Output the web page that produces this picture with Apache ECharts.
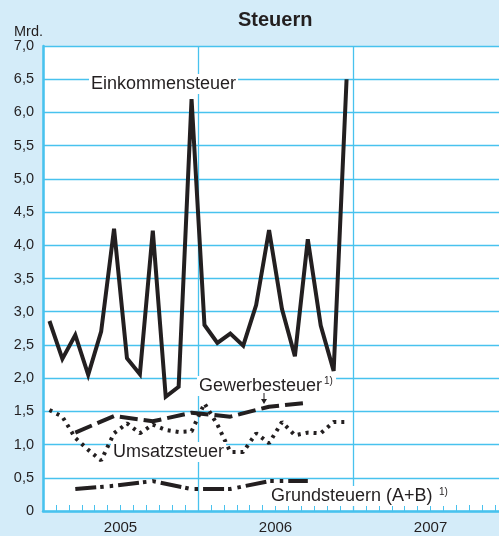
<!DOCTYPE html>
<html>
<head>
<meta charset="utf-8">
<script src="https://cdn.jsdelivr.net/npm/echarts@6/dist/echarts.min.js"></script>
<style>
html,body{margin:0;padding:0;background:#d4ecf9;}
#c{width:499px;height:536px;}
</style>
</head>
<body>
<div id="c"></div>
<script>
// Tick labels / categories
const years = ['2005', '2006', '2007'];
const yTicks = [0, 0.5, 1, 1.5, 2, 2.5, 3, 3.5, 4, 4.5, 5, 5.5, 6, 6.5, 7];

// Monthly series (Jan 2005 .. Dec 2006), Mrd.
const einkommensteuer = [2.86, 2.29, 2.65, 2.05, 2.70, 4.25, 2.30, 2.06, 4.22, 1.72, 1.87, 6.20,
                         2.80, 2.53, 2.67, 2.49, 3.10, 4.23, 3.04, 2.33, 4.09, 2.79, 2.11, 6.50];
const umsatzsteuer = [1.52, 1.42, 1.10, 0.92, 0.76, 1.17, 1.32, 1.17, 1.30, 1.22, 1.19, 1.20,
                      1.62, 1.30, 0.89, 0.89, 1.17, 1.02, 1.34, 1.14, 1.18, 1.17, 1.34, 1.34];

// Quarterly series (month index within 2005-2006)
const quarterMonths = [2, 5, 8, 11, 14, 17, 20];
const gewerbesteuer = [1.18, 1.43, 1.35, 1.48, 1.42, 1.57, 1.63];
const grundsteuern = [0.33, 0.38, 0.45, 0.33, 0.33, 0.45, 0.45];

const monthly = arr => arr.map((v, i) => [i + 0.5, v]);
const quarterly = arr => arr.map((v, i) => [quarterMonths[i] + 0.5, v]);

// visible part of the 36-month axis (plot is cut at the right edge, during 2007)
const xMax = 35.3;

const blue = '#48c2ee';
const ink = '#231f20';
const labelFont = '18px "Liberation Sans", Arial, sans-serif';

const chart = echarts.init(document.getElementById('c'), null, {renderer: 'canvas'});
chart.setOption({
  backgroundColor: '#d4ecf9',
  animation: false,
  grid: {left: 43, top: 46, bottom: 25, right: 0, show: true, backgroundColor: '#ffffff', borderWidth: 0},
  xAxis: [{
    type: 'value', min: 0, max: xMax, interval: 12,
    axisLine: {show: true, lineStyle: {color: blue, width: 2.5}},
    axisTick: {show: true, inside: true, length: 6, lineStyle: {color: blue, width: 1}},
    minorTick: {show: true, splitNumber: 12, length: 6, lineStyle: {color: blue, width: 1}},
    axisLabel: {show: false},
    splitLine: {show: true, showMaxLine: false, lineStyle: {color: blue, width: 1.3}}
  }, {
    type: 'value', min: 0, max: xMax, interval: 6, position: 'bottom',
    axisLine: {show: false}, axisTick: {show: false}, splitLine: {show: false},
    axisLabel: {
      color: ink, fontSize: 15, fontFamily: '"Liberation Sans", Arial, sans-serif', margin: 9,
      showMinLabel: true, showMaxLabel: false,
      formatter: v => (Math.round(v) % 12 === 6 ? years[Math.floor(v / 12)] : '')
    }
  }],
  yAxis: {
    type: 'value', min: 0, max: 7, interval: 0.5,
    axisLine: {show: true, lineStyle: {color: blue, width: 2.5}},
    axisTick: {show: false},
    splitLine: {show: true, lineStyle: {color: blue, width: 1.3}},
    axisLabel: {
      color: ink, fontSize: 14.5, fontFamily: '"Liberation Sans", Arial, sans-serif', margin: 9,
      formatter: v => (v === 0 ? '0' : v.toFixed(1).replace('.', ','))
    }
  },
  series: [{
    name: 'Einkommensteuer', type: 'line', data: monthly(einkommensteuer), symbol: 'none',
    lineStyle: {color: ink, width: 4, join: 'miter', miterLimit: 4}, z: 5
  }, {
    name: 'Umsatzsteuer', type: 'line', data: monthly(umsatzsteuer), symbol: 'none',
    lineStyle: {color: ink, width: 4, type: [3, 5], cap: 'butt'}, z: 4
  }, {
    name: 'Gewerbesteuer', type: 'line', data: quarterly(gewerbesteuer), symbol: 'none',
    lineStyle: {color: ink, width: 4, type: [18, 6], cap: 'butt'}, z: 4
  }, {
    name: 'Grundsteuern', type: 'line', data: quarterly(grundsteuern), symbol: 'none',
    lineStyle: {color: ink, width: 4, type: [21, 4, 3.5, 6, 3.5, 5], cap: 'butt'}, z: 4
  }],
  graphic: [
    {type: 'text', left: 276 - 38, top: 10, style: {text: 'Steuern', fill: ink, font: 'bold 20px "Liberation Sans", Arial, sans-serif'}},
    {type: 'text', left: 14, top: 24, style: {text: 'Mrd.', fill: ink, font: '14.5px "Liberation Sans", Arial, sans-serif'}},
    {type: 'text', left: 89, top: 74, z: 10, style: {text: 'Einkommensteuer', fill: ink, font: labelFont, backgroundColor: '#fff', padding: [1, 2, 1, 2]}},
    {type: 'text', left: 197, top: 376, z: 10, style: {text: 'Gewerbesteuer', fill: ink, font: labelFont, backgroundColor: '#fff', padding: [1, 14, 1, 2]}},
    {type: 'text', left: 324, top: 376, z: 11, style: {text: '1)', fill: ink, font: '10px "Liberation Sans", Arial, sans-serif'}},
    {type: 'line', z: 11, shape: {x1: 264, y1: 393, x2: 264, y2: 400}, style: {stroke: ink, lineWidth: 1}},
    {type: 'polygon', z: 11, shape: {points: [[261, 399], [267, 399], [264, 404]]}, style: {fill: ink}},
    {type: 'text', left: 111, top: 442, z: 10, style: {text: 'Umsatzsteuer', fill: ink, font: labelFont, backgroundColor: '#fff', padding: [1, 2, 1, 2]}},
    {type: 'text', left: 269, top: 486, z: 10, style: {text: 'Grundsteuern (A+B)', fill: ink, font: labelFont, backgroundColor: '#fff', padding: [1, 14, 1, 2]}},
    {type: 'text', left: 439, top: 487, z: 11, style: {text: '1)', fill: ink, font: '10px "Liberation Sans", Arial, sans-serif'}}
  ]
});
</script>
</body>
</html>
